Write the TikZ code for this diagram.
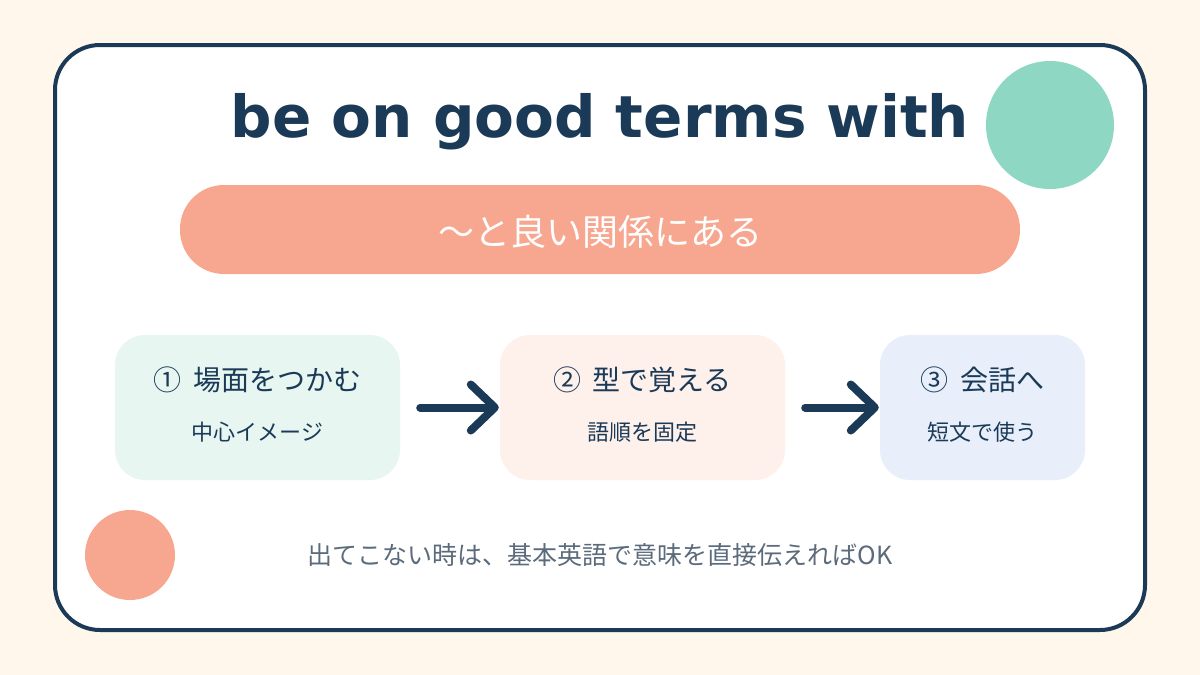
\documentclass[tikz,border=0pt]{standalone}
\usepackage{fontspec}
\setmainfont{DejaVu Sans}
\newfontfamily\jpfont{Noto Sans CJK JP}
\usetikzlibrary{arrows.meta}
\definecolor{cream}{HTML}{FFF6EC}
\definecolor{navy}{HTML}{1B3A57}
\definecolor{mintdot}{HTML}{8ED8C3}
\definecolor{salmon}{HTML}{F7A68F}
\definecolor{mintbox}{HTML}{E8F6F1}
\definecolor{peachbox}{HTML}{FEF0EB}
\definecolor{bluebox}{HTML}{E8EFFA}
\definecolor{note}{HTML}{5B6B7B}
\tikzset{
  stepbox/.style={rounded corners=30pt, minimum height=145pt, inner sep=0pt},
  flow/.style={navy, line width=8pt, line cap=round, shorten <=20pt, shorten >=1pt,
    -{Straight Barb[length=24pt, width=46pt, round]}}
}
\begin{document}
\begin{tikzpicture}[x=1pt,y=-1pt]
        \fill[cream] (0,0) rectangle (1200,675);
        \useasboundingbox (0,0) rectangle (1200,675);
        \draw[navy, line width=4pt, fill=white, rounded corners=45pt] (55,45) rectangle (1145,630);
        \fill[mintdot] (1050,125) circle (64pt);
        \fill[salmon] (130,555) circle (45pt);
        \node[anchor=base, text=navy, font=\bfseries\fontsize{58}{60}\selectfont] (title) at (600,137) {be on good terms with};
        \node[fill=salmon, rounded corners=44pt, minimum width=840pt, minimum height=89pt] (pill) at (600,229.5) {};
        \node[anchor=base, text=white, font=\jpfont\fontsize{36}{40}\selectfont] (meaning) at (600,245) {〜と良い関係にある};
        \foreach \n/\x/\w/\c/\head/\sub in {1/257.5/285/mintbox/{①\hspace{0.4em}場面をつかむ}/中心イメージ,
                2/642.5/285/peachbox/{②\hspace{0.4em}型で覚える}/語順を固定,
                3/982.5/205/bluebox/{③\hspace{0.4em}会話へ}/短文で使う} {
                \node[stepbox, fill=\c, minimum width=\w pt] (box\n) at (\x,407.5) {};
                \node[anchor=base, text=navy, font=\jpfont\fontsize{28}{30}\selectfont] (head\n) at (\x,390) {\head};
                \node[anchor=base, text=navy, font=\jpfont\fontsize{22}{24}\selectfont] (sub\n) at (\x,440) {\sub};
            }
        \draw[flow] (box1.east) -- (box2.west);
        \draw[flow] (box2.east) -- (box3.west);
        \node[anchor=base, text=note, font=\jpfont\fontsize{25}{28}\selectfont] (hint) at (600,564) {出てこない時は、基本英語で意味を直接伝えればOK};
    \end{tikzpicture}
\end{document}
